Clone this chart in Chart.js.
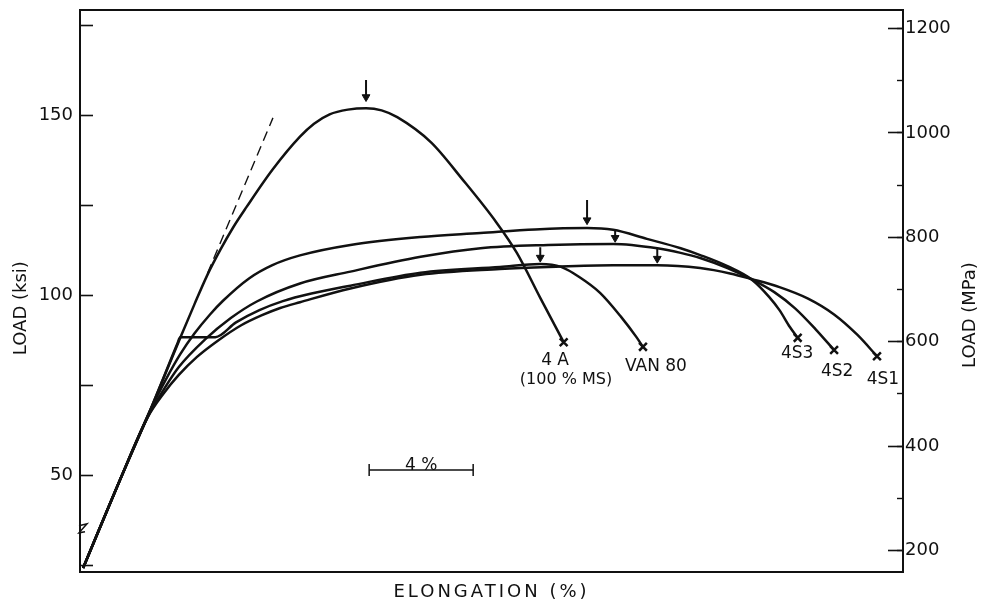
<!DOCTYPE html>
<html><head><meta charset="utf-8">
<script src="https://cdn.jsdelivr.net/npm/chart.js@4.4.1/dist/chart.umd.min.js"></script>
<style>html,body{margin:0;padding:0;background:#fff}canvas{display:block}</style>
</head><body>
<canvas id="c" width="985" height="605"></canvas>
<script>
// ---- axis ranges ----
const elongRange = [0, 31.65];          // elongation (%)
const ksiRange = [23.06, 179.17];       // load (ksi)
const KSI_TO_MPA = 6.895;

// ---- series (elongation %, load ksi) ----
const x4A = [0.12, 1.5, 2.7, 3.85, 4.4, 4.9, 5.4, 5.9, 6.4, 7.4, 8.46, 9.0, 9.6, 10.3, 11.0, 11.6, 12.2, 13.5, 14.7, 16.0, 16.8, 17.7, 18.6];
const y4A = [24.2, 48.0, 68.0, 88.0, 97.4, 105.6, 112.6, 118.9, 124.4, 134.8, 144.0, 147.6, 150.2, 151.5, 151.9, 151.3, 149.4, 142.4, 132.2, 120.3, 111.7, 99.2, 86.9];

const xVAN = [0.12, 1.5, 2.7, 3.75, 3.85, 4.5, 5.2, 6.0, 6.9, 7.8, 8.9, 10.4, 13.1, 16.15, 17.7, 18.5, 19.2, 20.0, 20.8, 21.4, 21.65];
const yVAN = [24.2, 48.0, 68.0, 86.6, 88.3, 88.3, 88.3, 92.4, 95.8, 98.3, 100.4, 102.6, 106.2, 107.8, 108.6, 107.8, 105.0, 100.6, 94.0, 88.3, 85.6];

const x4S3 = [0.12, 1.5, 2.7, 3.3, 3.85, 4.4, 5.0, 5.5, 6.5, 7.4, 8.46, 10.4, 13.1, 15.4, 17.5, 19.5, 20.5, 21.8, 23.1, 23.85, 24.9, 25.85, 26.5, 26.9, 27.3, 27.6];
const y4S3 = [24.2, 48.0, 68.0, 76.5, 83.5, 89.3, 94.6, 98.4, 104.6, 108.3, 111.0, 113.9, 116.1, 117.2, 118.2, 118.6, 118.1, 115.6, 113.0, 111.1, 108.0, 104.2, 99.5, 95.8, 91.1, 88.1];

const x4S2 = [0.12, 1.5, 2.6, 3.2, 3.8, 4.8, 5.8, 6.8, 8.46, 10.4, 13.1, 15.4, 18.0, 20.5, 22.2, 23.1, 23.85, 24.9, 25.85, 26.7, 27.5, 28.3, 29.0];
const y4S2 = [24.2, 48.0, 66.0, 73.5, 80.0, 87.6, 93.6, 98.2, 103.2, 106.5, 110.6, 113.0, 113.9, 114.2, 113.0, 111.7, 110.3, 107.5, 104.3, 100.8, 96.3, 90.4, 84.7];

const x4S1 = [0.12, 1.5, 2.6, 3.2, 3.8, 4.5, 5.3, 6.2, 7.0, 7.7, 8.46, 10.4, 13.1, 16.15, 18.0, 20.5, 22.2, 23.85, 25.0, 25.85, 26.9, 28.0, 29.0, 29.9, 30.65];
const y4S1 = [24.2, 48.0, 66.0, 72.5, 77.8, 82.8, 87.3, 91.6, 94.4, 96.4, 98.0, 101.8, 105.6, 107.2, 107.8, 108.3, 108.3, 107.5, 106.0, 104.4, 102.2, 99.0, 94.6, 88.9, 83.0];

// dashed elastic tangent
const xTangent = [4.9, 7.42];
const yTangent = [106.0, 149.2];

// maximum-load arrows (x, tail ksi, head ksi)
const arrowX    = [11.0, 19.5, 20.58, 17.7, 22.2];
const arrowTail = [159.7, 126.4, 118.1, 113.3, 113.1];
const arrowHead = [155.0, 120.8, 115.9, 110.4, 110.1];

// 4 % scale bar
const scaleBarX = [11.12, 15.12];
const scaleBarKsi = 51.4;

// text labels
const labelText = ['4 A', '(100 % MS)', 'VAN 80', '4S3', '4S2', '4S1', '4 %'];
const labelX    = [18.27, 18.69, 22.15, 27.58, 29.12, 30.88, 13.12];
const labelY    = [81.9, 76.4, 80.0, 83.6, 78.6, 76.4, 52.5];

const axisBreakKsi = 34.5;

// ---- build datasets ----
const pts = (xs, ys) => xs.map((v, i) => ({x: v, y: ys[i]}));
const INK = '#111';
function curve(label, xs, ys) {
  return {
    label, data: pts(xs, ys), borderColor: INK, borderWidth: 2.5,
    cubicInterpolationMode: 'monotone', fill: false,
    pointStyle: 'crossRot', pointBorderColor: INK, pointBackgroundColor: INK,
    pointBorderWidth: 2.5, pointHoverRadius: 0,
    pointRadius: c => c.dataIndex === xs.length - 1 ? 5.5 : 0
  };
}
const arrowData = [];
arrowX.forEach((ax, i) => {
  arrowData.push({x: ax, y: arrowTail[i]}, {x: ax, y: arrowHead[i]}, {x: ax, y: null});
});

const datasets = [
  curve('4A', x4A, y4A),
  curve('VAN 80', xVAN, yVAN),
  curve('4S3', x4S3, y4S3),
  curve('4S2', x4S2, y4S2),
  curve('4S1', x4S1, y4S1),
  { label: 'tangent', data: pts(xTangent, yTangent), borderColor: INK, borderWidth: 1.4,
    borderDash: [10, 6], pointRadius: 0, tension: 0 },
  { label: 'max load', data: arrowData, borderColor: INK, borderWidth: 2, tension: 0, spanGaps: false,
    pointStyle: 'triangle', rotation: 180, pointBackgroundColor: INK, pointBorderColor: INK,
    pointBorderWidth: 1, pointRadius: c => c.dataIndex % 3 === 1 ? 4.5 : 0 },
  { label: 'scale bar', data: scaleBarX.map(v => ({x: v, y: scaleBarKsi})), borderColor: INK,
    borderWidth: 1.5, tension: 0, pointStyle: 'line', rotation: 90, pointRadius: 6,
    pointBorderColor: INK, pointBorderWidth: 1.5 }
];

const FONT = 'DejaVu Sans';
const annot = {
  id: 'annot',
  afterDraw(chart) {
    const {ctx, chartArea} = chart;
    const x = chart.scales.x, y = chart.scales.y;
    ctx.save();
    ctx.fillStyle = INK;
    ctx.textAlign = 'center';
    ctx.textBaseline = 'middle';
    labelText.forEach((t, i) => {
      ctx.font = (i === 1 ? '16px ' : '17px ') + '"' + FONT + '"';
      ctx.fillText(t, x.getPixelForValue(labelX[i]), y.getPixelForValue(labelY[i]));
    });
    // axis break mark
    const yb = y.getPixelForValue(axisBreakKsi), L = chartArea.left;
    ctx.strokeStyle = INK; ctx.lineWidth = 1.5;
    ctx.beginPath();
    ctx.moveTo(L - 1, yb - 5); ctx.lineTo(L + 7, yb - 7);
    ctx.lineTo(L - 1, yb + 2); ctx.lineTo(L + 5, yb + 1);
    ctx.stroke();
    // right axis title (reads bottom to top)
    ctx.translate(chartArea.right + 67, (chartArea.top + chartArea.bottom) / 2 + 24);
    ctx.rotate(-Math.PI / 2);
    ctx.font = '18px "' + FONT + '"';
    ctx.fillText('LOAD (MPa)', 0, 0);
    ctx.restore();
  }
};

const noPad = s => { s.paddingTop = 0; s.paddingBottom = 0; };
const tickFont = {family: FONT, size: 18};
new Chart(document.getElementById('c'), {
  type: 'line',
  data: {datasets},
  plugins: [annot],
  options: {
    responsive: false, animation: false, devicePixelRatio: 1, events: [],
    layout: {padding: {top: 10, left: 0, right: 0, bottom: 0}},
    plugins: {legend: {display: false}, tooltip: {enabled: false}},
    scales: {
      x: {
        type: 'linear', position: 'bottom', min: elongRange[0], max: elongRange[1],
        grid: {display: false}, border: {display: true, color: INK, width: 2},
        ticks: {display: false},
        title: {display: true, text: 'ELONGATION (%)', color: INK,
                font: {family: FONT, size: 18, lineHeight: 1}, padding: {top: 0, bottom: 4}},
        afterFit(s) {
          s.height = 33; s.paddingLeft = 0; s.paddingRight = 0;
          if (!s._spacedTitle) {
            const orig = s.drawTitle;
            s.drawTitle = function () {
              this.ctx.save(); this.ctx.letterSpacing = '3px';
              orig.call(this); this.ctx.restore();
            };
            s._spacedTitle = true;
          }
        }
      },
      xTop: {
        type: 'linear', position: 'top', min: elongRange[0], max: elongRange[1],
        grid: {display: false}, border: {display: true, color: INK, width: 2},
        ticks: {display: false}, afterFit(s) { s.height = 0; s.paddingLeft = 0; s.paddingRight = 0; }
      },
      y: {
        type: 'linear', position: 'left', min: ksiRange[0], max: ksiRange[1],
        grid: {drawOnChartArea: false, drawTicks: true, tickLength: -13, tickWidth: 1.6, tickColor: INK},
        border: {display: true, color: INK, width: 2},
        ticks: {stepSize: 25, includeBounds: false, padding: 20, color: INK, font: tickFont,
                callback: v => (v % 50 === 0 ? String(v) : '')},
        title: {display: true, text: 'LOAD (ksi)      ', color: INK,
                font: {family: FONT, size: 18, lineHeight: 1.2}, padding: {top: 11, bottom: 0}},
        afterFit(s) { s.width = 80; noPad(s); }
      },
      yMpaMinor: {
        type: 'linear', position: 'right', weight: 0,
        min: ksiRange[0] * KSI_TO_MPA, max: ksiRange[1] * KSI_TO_MPA,
        grid: {drawOnChartArea: false, drawTicks: true, tickLength: -6, tickWidth: 1.4, tickColor: INK},
        border: {display: false},
        ticks: {display: false, stepSize: 100, includeBounds: false},
        afterFit(s) { s.width = 0; noPad(s); }
      },
      yMpa: {
        type: 'linear', position: 'right', weight: 1,
        min: ksiRange[0] * KSI_TO_MPA, max: ksiRange[1] * KSI_TO_MPA,
        grid: {drawOnChartArea: false, drawTicks: true, tickLength: -15, tickWidth: 1.6, tickColor: INK},
        border: {display: true, color: INK, width: 2},
        ticks: {stepSize: 200, includeBounds: false, padding: 17, color: INK, font: tickFont,
                callback: v => String(v)},
        afterFit(s) { s.width = 82; noPad(s); }
      }
    }
  }
});
</script>
</body></html>
